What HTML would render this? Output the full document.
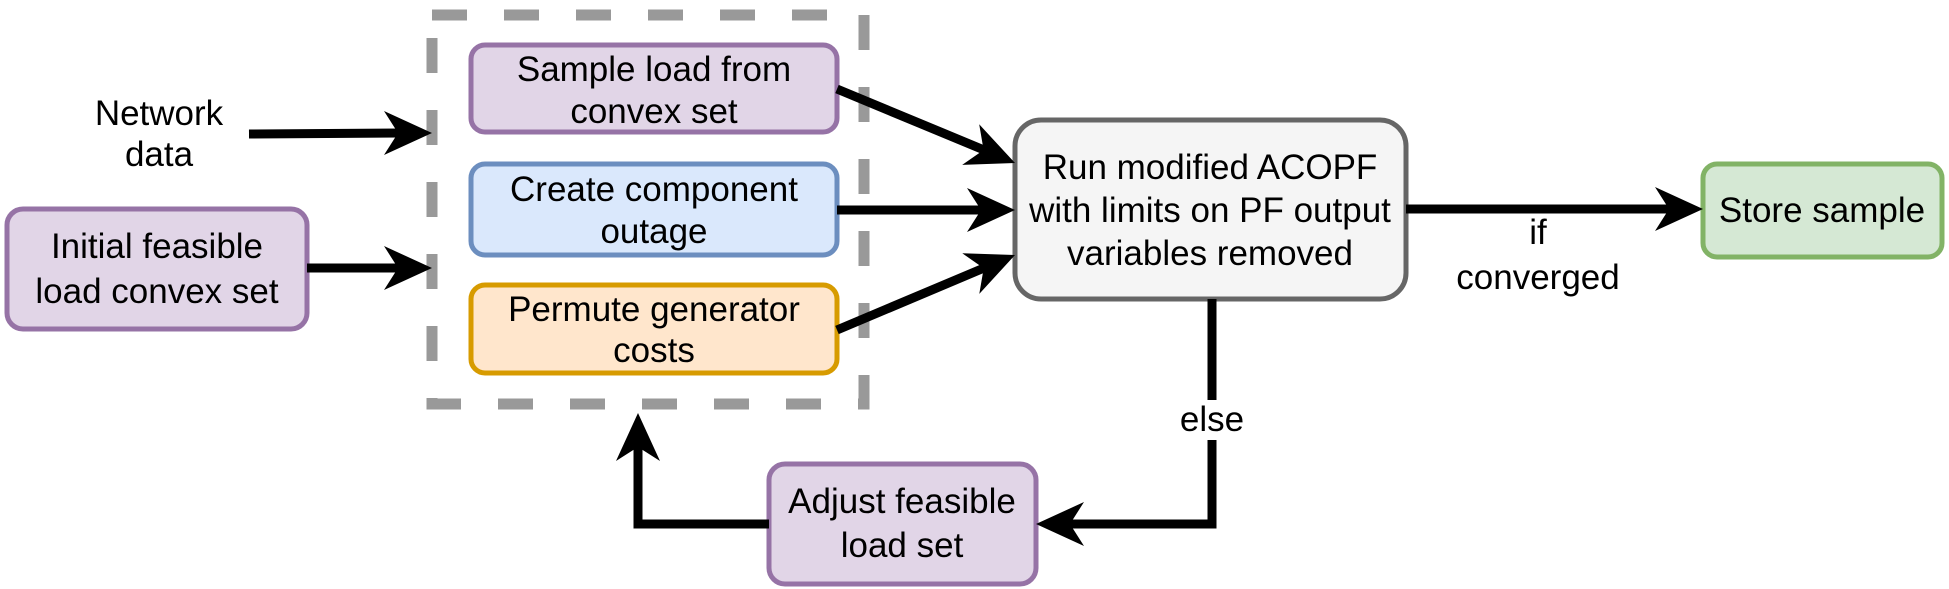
<!DOCTYPE html>
<html><head><meta charset="utf-8"><style>
html,body{margin:0;padding:0;background:#fff;}
svg{display:block;}
text{font-family:"Liberation Sans",Arial,sans-serif;font-size:35px;text-anchor:middle;fill:#000;}
</style></head><body>
<svg width="1949" height="589" viewBox="0 0 1949 589" xmlns="http://www.w3.org/2000/svg">
<rect x="432" y="15" width="432" height="389" fill="none" stroke="#999" stroke-width="11" stroke-dasharray="35 37"/>
<rect x="7" y="209" width="300" height="120" rx="16" fill="#e1d5e7" stroke="#9673a6" stroke-width="5"/>
<text x="157" y="258">Initial feasible</text><text x="157" y="303">load convex set</text>
<rect x="471" y="45" width="366" height="87" rx="14" fill="#e1d5e7" stroke="#9673a6" stroke-width="5"/>
<text x="654" y="81">Sample load from</text><text x="654" y="123">convex set</text>
<rect x="471" y="164" width="366" height="91" rx="14" fill="#dae8fc" stroke="#6c8ebf" stroke-width="5"/>
<text x="654" y="201">Create component</text><text x="654" y="243">outage</text>
<rect x="471" y="285" width="366" height="88" rx="14" fill="#ffe6cc" stroke="#d79b00" stroke-width="5"/>
<text x="654" y="321">Permute generator</text><text x="654" y="362">costs</text>
<rect x="1015" y="120" width="391" height="179" rx="26" fill="#f5f5f5" stroke="#666" stroke-width="5"/>
<text x="1210" y="179" fill="#333">Run modified ACOPF</text><text x="1210" y="222" fill="#333">with limits on PF output</text><text x="1210" y="265" fill="#333">variables removed</text>
<rect x="1703" y="164" width="239" height="93" rx="14" fill="#d5e8d4" stroke="#82b366" stroke-width="5"/>
<text x="1822" y="222">Store sample</text>
<rect x="769" y="464" width="267" height="120" rx="16" fill="#e1d5e7" stroke="#9673a6" stroke-width="5"/>
<text x="902" y="513">Adjust feasible</text><text x="902" y="557">load set</text>
<text x="159" y="125">Network</text><text x="159" y="166">data</text>
<g stroke="#000" stroke-width="9" fill="none">
<line x1="249" y1="134" x2="400" y2="133"/>
<line x1="307" y1="268" x2="400" y2="268"/>
<line x1="837" y1="89" x2="984" y2="150"/>
<line x1="837" y1="210" x2="983" y2="210"/>
<line x1="837" y1="330" x2="984" y2="268"/>
<line x1="1406" y1="209" x2="1671" y2="209"/>
<polyline points="1212,299 1212,524 1068,524"/>
<polyline points="769,524 638,524 638,445"/>
</g>
<g fill="#000">
<polygon points="432,133 384,111 398,133 384,155"/>
<polygon points="432,268 384,246 398,268 384,290"/>
<polygon points="1015,163 979.2,124.3 983.6,150 962.2,164.9"/>
<polygon points="1015,210 967,188 981,210 967,232"/>
<polygon points="1015,255 962.3,253.3 983.7,268.2 979.3,293.9"/>
<polygon points="1703,209 1655,187 1669,209 1655,231"/>
<polygon points="1036,524 1084,502 1070,524 1084,546"/>
<polygon points="638,413 616,461 638,447 660,461"/>
</g>
<rect x="1182" y="400" width="60" height="40" fill="#fff"/>
<text x="1212" y="431">else</text>
<text x="1538" y="244">if</text><text x="1538" y="289">converged</text>
</svg>
</body></html>
